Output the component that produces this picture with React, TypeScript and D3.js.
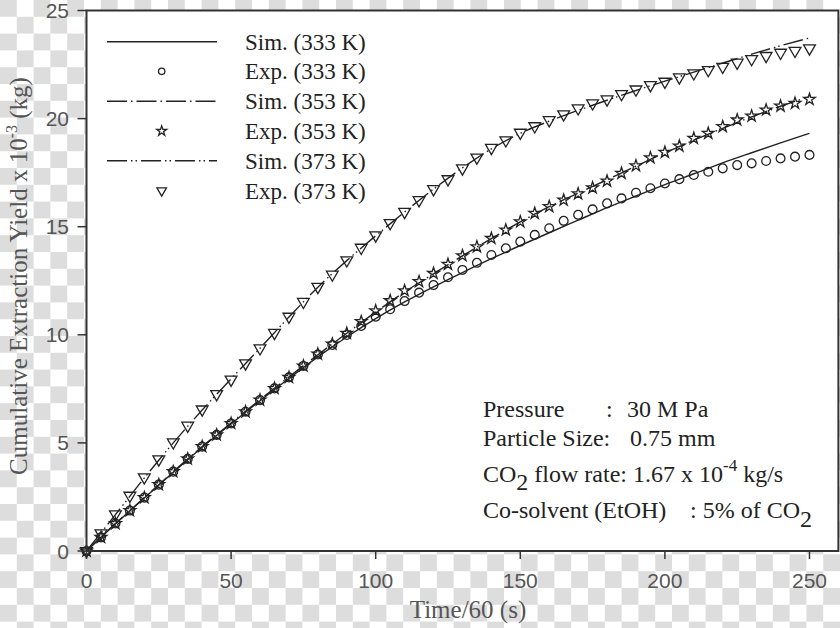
import React from 'react';
import * as d3 from 'd3';

// ---------- data ----------
const expTime = [0, 5, 10, 15, 20, 25, 30, 35, 40, 45, 50, 55, 60, 65, 70, 75, 80, 85, 90, 95, 100, 105, 110, 115, 120, 125, 130, 135, 140, 145, 150, 155, 160, 165, 170, 175, 180, 185, 190, 195, 200, 205, 210, 215, 220, 225, 230, 235, 240, 245, 250];
const exp333 = [0, 0.63, 1.27, 1.87, 2.47, 3.07, 3.67, 4.26, 4.83, 5.37, 5.9, 6.44, 6.98, 7.52, 8.03, 8.56, 9.09, 9.53, 9.99, 10.41, 10.84, 11.18, 11.56, 11.95, 12.3, 12.66, 13.0, 13.33, 13.69, 14.0, 14.31, 14.62, 14.93, 15.27, 15.55, 15.8, 16.08, 16.31, 16.57, 16.78, 17.0, 17.2, 17.39, 17.54, 17.7, 17.85, 17.93, 18.04, 18.16, 18.24, 18.32];
const exp353 = [0, 0.63, 1.27, 1.87, 2.47, 3.07, 3.67, 4.26, 4.83, 5.37, 5.9, 6.44, 6.98, 7.52, 8.03, 8.56, 9.11, 9.57, 10.07, 10.61, 11.11, 11.58, 12.04, 12.46, 12.84, 13.26, 13.66, 14.07, 14.46, 14.85, 15.23, 15.62, 15.93, 16.23, 16.52, 16.8, 17.11, 17.47, 17.82, 18.19, 18.44, 18.73, 19.09, 19.32, 19.63, 19.94, 20.12, 20.4, 20.58, 20.71, 20.89];
const exp373 = [0, 0.82, 1.7, 2.56, 3.41, 4.24, 5.03, 5.8, 6.55, 7.26, 7.93, 8.68, 9.38, 10.09, 10.84, 11.53, 12.22, 12.79, 13.45, 14.03, 14.6, 15.17, 15.69, 16.23, 16.74, 17.2, 17.7, 18.2, 18.65, 19.0, 19.35, 19.65, 19.93, 20.2, 20.48, 20.71, 20.89, 21.14, 21.35, 21.55, 21.71, 21.91, 22.1, 22.25, 22.4, 22.59, 22.76, 22.9, 23.05, 23.14, 23.25];

const simTime = [0, 10, 20, 30, 40, 50, 60, 70, 80, 90, 100, 110, 120, 130, 140, 150, 160, 170, 180, 190, 200, 210, 220, 230, 240, 250];
const sim333 = [0, 1.25, 2.45, 3.64, 4.8, 5.88, 6.95, 7.98, 8.98, 9.9, 10.75, 11.52, 12.22, 12.88, 13.52, 14.13, 14.72, 15.3, 15.88, 16.42, 16.95, 17.45, 17.95, 18.42, 18.88, 19.32];
const sim353 = [0, 1.27, 2.47, 3.67, 4.83, 5.92, 7.0, 8.05, 9.08, 10.07, 11.05, 11.98, 12.82, 13.65, 14.45, 15.22, 15.93, 16.55, 17.17, 17.8, 18.42, 19.0, 19.55, 20.08, 20.57, 21.02];
const sim373 = [0, 1.68, 3.38, 5.0, 6.52, 7.96, 9.38, 10.82, 12.2, 13.43, 14.58, 15.68, 16.74, 17.72, 18.6, 19.32, 19.88, 20.38, 20.85, 21.3, 21.73, 22.15, 22.57, 22.98, 23.37, 23.73];

const xTicks = [0, 50, 100, 150, 200, 250];
const yTicks = [0, 5, 10, 15, 20, 25];
const legendLabels = ['Sim. (333 K)', 'Exp. (333 K)', 'Sim. (353 K)', 'Exp. (353 K)', 'Sim. (373 K)', 'Exp. (373 K)'];

// ---------- layout ----------
const W = 840;
const H = 628;
const L = 86.5, R = 838.4, T = 10.5, B = 551;
const serif = '"Liberation Serif", "Times New Roman", serif';
const sans = '"Liberation Sans", Arial, sans-serif';
const ink = '#222';
const dash353 = '20,4,1.5,4';
const dash373 = '20,4,1.5,3,1.5,4';

const x = d3.scaleLinear().domain([0, 260]).range([L, R]);
const y = d3.scaleLinear().domain([0, 25]).range([B, T]);

const lineGen = d3.line<[number, number]>().x(d => x(d[0])).y(d => y(d[1])).curve(d3.curveMonotoneX);
const zip = (a: number[], b: number[]) => a.map((v, i) => [v, b[i]] as [number, number]);

const circlePath = (r: number) => d3.symbol(d3.symbolCircle, Math.PI * r * r)();
const starPath = (s: number) => d3.symbol(d3.symbolStar, s)();
const triPath = (s: number) => d3.symbol(d3.symbolTriangle, s)();

export default function App() {
  const cPath = circlePath(4.4);
  const sPath = starPath(42);
  const tPath = triPath(60);
  const legendRows = [41.7, 71.3, 101.2, 131, 160.8, 190.6];

  return (
    <svg width={W} height={H} style={{ position: 'absolute', left: 0, top: 0 }} xmlns="http://www.w3.org/2000/svg">
      <defs>
        <pattern id="checker" width={33.6} height={33.6} patternUnits="userSpaceOnUse">
          <rect width={33.6} height={33.6} fill="#ffffff" />
          <rect x={0} y={0} width={16.8} height={16.8} fill="#dddddd" />
          <rect x={16.8} y={16.8} width={16.8} height={16.8} fill="#dddddd" />
        </pattern>
      </defs>
      <rect width={W} height={H} fill="url(#checker)" />
      <rect x={L} y={T} width={R - L} height={B - T} fill="#ffffff" />

      {/* sim lines */}
      <path d={lineGen(zip(simTime, sim333)) || ''} fill="none" stroke={ink} strokeWidth={1.4} />
      <path d={lineGen(zip(simTime, sim353)) || ''} fill="none" stroke={ink} strokeWidth={1.4} strokeDasharray={dash353} />
      <path d={lineGen(zip(simTime, sim373)) || ''} fill="none" stroke={ink} strokeWidth={1.4} strokeDasharray={dash373} />

      {/* exp markers */}
      {expTime.map((t, i) => (
        <path key={'c' + i} d={cPath || ''} transform={`translate(${x(t)},${y(exp333[i])})`} fill="none" stroke={ink} strokeWidth={1.3} />
      ))}
      {expTime.map((t, i) => (
        <path key={'s' + i} d={sPath || ''} transform={`translate(${x(t)},${y(exp353[i])})`} fill="none" stroke={ink} strokeWidth={1.3} />
      ))}
      {expTime.map((t, i) => (
        <path key={'t' + i} d={tPath || ''} transform={`translate(${x(t)},${y(exp373[i])}) rotate(180)`} fill="none" stroke={ink} strokeWidth={1.3} />
      ))}

      {/* frame */}
      <rect x={L} y={T} width={R - L} height={B - T} fill="none" stroke="#333" strokeWidth={2} />

      {/* axes ticks */}
      {xTicks.map(t => (
        <g key={'xt' + t}>
          <line x1={x(t)} x2={x(t)} y1={B} y2={B + 8} stroke="#333" strokeWidth={1.5} />
          <text x={x(t)} y={588} textAnchor="middle" fontFamily={sans} fontSize={21} fill="#555">{t}</text>
        </g>
      ))}
      {yTicks.map(t => (
        <g key={'yt' + t}>
          <line x1={L - 9} x2={L} y1={y(t)} y2={y(t)} stroke="#333" strokeWidth={1.5} />
          <text x={69} y={y(t) + 7.5} textAnchor="end" fontFamily={sans} fontSize={21} fill="#555">{t}</text>
        </g>
      ))}

      {/* axis titles */}
      <text x={468} y={618} textAnchor="middle" fontFamily={serif} fontSize={25} fill="#555">Time/60 (s)</text>
      <text transform="translate(27,276) rotate(-90)" textAnchor="middle" fontFamily={serif} fontSize={25} fill="#555">
        Cumulative Extraction Yield x 10<tspan fontSize={16} dy={-10}>-3</tspan><tspan dy={10}> (kg)</tspan>
      </text>

      {/* legend */}
      <line x1={107} x2={217} y1={legendRows[0]} y2={legendRows[0]} stroke={ink} strokeWidth={1.4} />
      <path d={circlePath(3.2) || ''} transform={`translate(161.7,${legendRows[1]})`} fill="none" stroke={ink} strokeWidth={1.3} />
      <line x1={107} x2={217} y1={legendRows[2]} y2={legendRows[2]} stroke={ink} strokeWidth={1.4} strokeDasharray={dash353} />
      <path d={starPath(30) || ''} transform={`translate(161.7,${legendRows[3]})`} fill="none" stroke={ink} strokeWidth={1.3} />
      <line x1={107} x2={217} y1={legendRows[4]} y2={legendRows[4]} stroke={ink} strokeWidth={1.4} strokeDasharray={dash373} />
      <path d={triPath(40) || ''} transform={`translate(161.7,${legendRows[5]}) rotate(180)`} fill="none" stroke={ink} strokeWidth={1.3} />
      {legendLabels.map((lab, i) => (
        <text key={lab} x={245} y={legendRows[i] + 8} fontFamily={serif} fontSize={23} fill={ink}>{lab}</text>
      ))}

      {/* annotation */}
      <g fontFamily={serif} fontSize={24} fill={ink}>
        <text x={483} y={417}>Pressure</text>
        <text x={606} y={417}>:</text>
        <text x={627} y={417}>30 M Pa</text>
        <text x={483} y={446}>Particle Size:</text>
        <text x={630} y={446}>0.75 mm</text>
        <text x={483} y={482}>CO<tspan dy={8}>2</tspan><tspan dy={-8}> flow rate: 1.67 x 10</tspan><tspan fontSize={17} dy={-11}>-4</tspan><tspan dy={11}> kg/s</tspan></text>
        <text x={483} y={518}>Co-solvent (EtOH)</text>
        <text x={690} y={518}>: 5% of CO<tspan dy={9}>2</tspan></text>
      </g>
    </svg>
  );
}
